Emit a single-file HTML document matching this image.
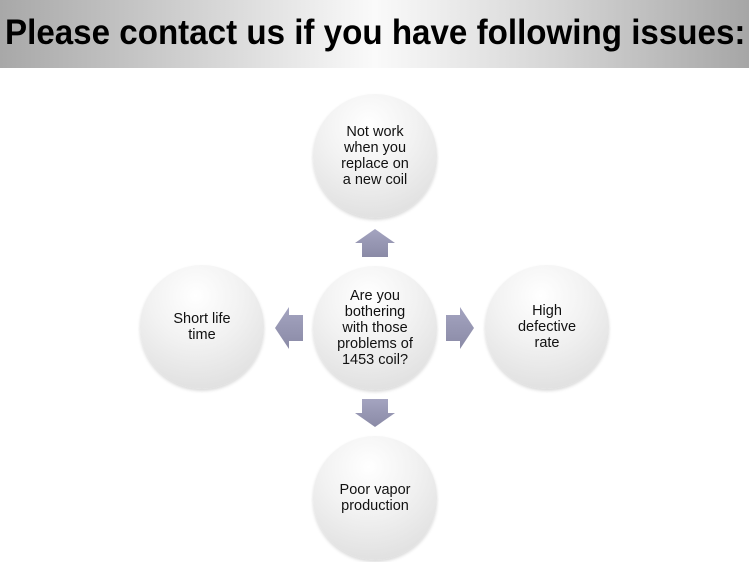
<!DOCTYPE html>
<html><head><style>
body{margin:0;width:749px;height:562px;background:#fff;position:relative;overflow:hidden;font-family:"Liberation Sans",Arial,sans-serif}
.hdr{position:absolute;left:0;top:0;width:749px;height:68px;overflow:hidden;background:linear-gradient(90deg,#a8a8a8 0%,#d0d0d0 25%,#fafafa 50%,#d4d4d4 75%,#a6a6a6 100%)}
.hdr div{position:absolute;left:5px;top:13px;font-weight:bold;font-size:35px;color:#000;white-space:nowrap;transform:scaleX(0.947);transform-origin:left center}
.c{position:absolute;width:124px;height:124px;border-radius:50%;background:radial-gradient(circle at 45% 25%,#ffffff 0%,#f2f2f2 40%,#d9d9d9 100%);box-shadow:0 2px 3px rgba(0,0,0,0.15);display:flex;align-items:center;justify-content:center;text-align:center;font-size:14.5px;line-height:16px;color:#111}
</style></head><body>
<div class="hdr"><div>Please contact us if you have following issues:</div></div>
<div class="c" style="left:313px;top:94px">Not work<br>when you<br>replace on<br>a new coil</div>
<div class="c" style="left:313px;top:266px">Are you<br>bothering<br>with those<br>problems of<br>1453 coil?</div>
<div class="c" style="left:140px;top:265px">Short life<br>time</div>
<div class="c" style="left:485px;top:265px">High<br>defective<br>rate</div>
<div class="c" style="left:313px;top:436px">Poor vapor<br>production</div>
<svg width="749" height="562" style="position:absolute;left:0;top:0">
<defs><linearGradient id="g" x1="0" y1="0" x2="0" y2="1"><stop offset="0" stop-color="#a4a4c0"/><stop offset="1" stop-color="#8a8aa6"/></linearGradient></defs>
<polygon fill="url(#g)" points="375,229 395,243 388,243 388,257 362,257 362,243 355,243"/>
<polygon fill="url(#g)" points="375,427 395,413 388,413 388,399 362,399 362,413 355,413"/>
<polygon fill="url(#g)" points="275,328 289,307 289,315 303,315 303,341 289,341 289,349"/>
<polygon fill="url(#g)" points="474,328 460,307 460,315 446,315 446,341 460,341 460,349"/>
</svg>
</body></html>
